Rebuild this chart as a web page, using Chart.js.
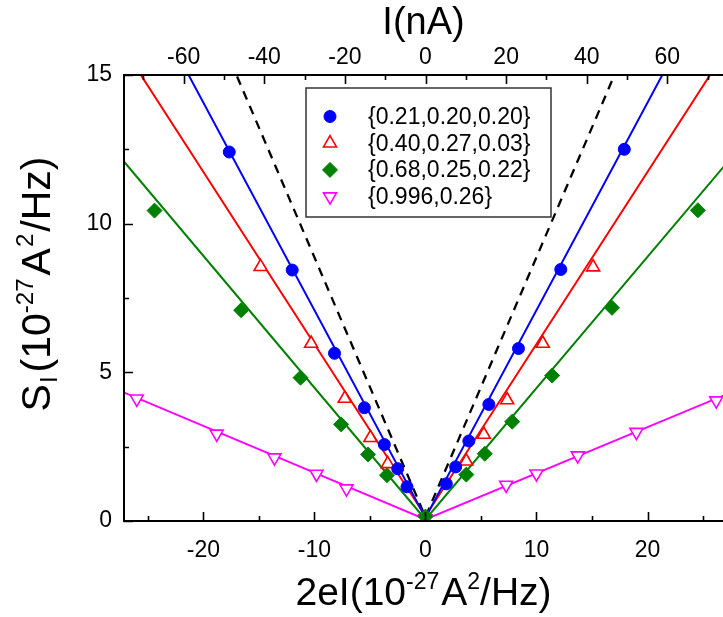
<!DOCTYPE html>
<html><head><meta charset="utf-8">
<script src="https://cdn.jsdelivr.net/npm/chart.js@4.4.0/dist/chart.umd.min.js"></script>
<style>html,body{margin:0;padding:0;background:#fff;overflow:hidden}</style>
</head><body>
<canvas id="c" width="723" height="617" style="display:block;width:723px;height:617px"></canvas>
<script>
// ---------- data ----------
const seriesLabels = ['{0.21,0.20,0.20}', '{0.40,0.27,0.03}', '{0.68,0.25,0.22}', '{0.996,0.26}'];

const blueX = [-17.67, -12.0, -8.19, -5.5, -3.7, -2.5, -1.66, 1.88, 2.72, 3.91, 5.71, 8.38, 12.19, 17.91];
const blueY = [12.41, 8.44, 5.64, 3.81, 2.57, 1.76, 1.15, 1.25, 1.82, 2.69, 3.92, 5.8, 8.46, 12.5];

const redX = [-14.85, -10.3, -7.27, -4.96, -3.4, 3.68, 5.26, 7.36, 10.57, 15.1];
const redY = [8.55, 5.97, 4.12, 2.8, 1.92, 2.01, 2.91, 4.07, 5.97, 8.54];

const greenX = [-24.4, -16.6, -11.25, -7.6, -5.17, -3.46, 0, 3.68, 5.35, 7.81, 11.41, 16.8, 24.54];
const greenY = [10.44, 7.09, 4.82, 3.25, 2.24, 1.54, 0.15, 1.56, 2.26, 3.34, 4.89, 7.17, 10.45];

const magentaX = [-26.0, -18.8, -13.6, -9.81, -7.11, 0, 7.27, 10.0, 13.72, 19.0, 26.19];
const magentaY = [4.11, 2.93, 2.13, 1.58, 1.09, 0.08, 1.21, 1.59, 2.2, 2.99, 4.05];

// fitted / reference lines (end points)
const blueFitX = [-30, 0, 30];    const blueFitY = [21.05, 0.11, 21.05];
const redFitX = [-30, 0, 30];     const redFitY = [17.53, 0.16, 17.53];
const greenFitX = [-30, 0, 30];   const greenFitY = [13.35, 0.05, 13.3];
const magentaFitX = [-30, 0, 30]; const magentaFitY = [4.77, 0.05, 4.71];
const dashX = [-30, 0, 30];       const dashY = [26.33, 0.14, 26.33];

// axes
const xMin = -27.15, xMax = 26.8;
const topMin = -74.8, topMax = 73.8;     // I(nA) axis
const yMin = 0, yMax = 15;
const xMajor = [-20, -10, 0, 10, 20];
const xMinor = [-25, -15, -5, 5, 15, 25];
const topMajor = [-60, -40, -20, 0, 20, 40, 60];
const topMinor = [-70, -50, -30, -10, 10, 30, 50, 70];
const yMajor = [0, 5, 10, 15];
const yMinor = [2.5, 7.5, 12.5];

// ---------- build ----------
const FONT = '"Liberation Sans", Arial, Helvetica, sans-serif';
const pts = (xs, ys) => xs.map((x, i) => ({x: x, y: ys[i]}));

const markerSets = [
  {label: seriesLabels[0], data: pts(blueX, blueY), pointStyle: 'circle', pointRadius: 6,
   backgroundColor: '#0000ff', borderColor: '#0000ff', pointBorderWidth: 1, rotation: 0},
  {label: seriesLabels[1], data: pts(redX, redY), pointStyle: 'triangle', pointRadius: 7.5,
   backgroundColor: '#ffffff', borderColor: '#ff0000', pointBorderWidth: 1.6, rotation: 0},
  {label: seriesLabels[2], data: pts(greenX, greenY), pointStyle: 'rectRot', pointRadius: 7.5,
   backgroundColor: '#008000', borderColor: '#008000', pointBorderWidth: 1, rotation: 0},
  {label: seriesLabels[3], data: pts(magentaX, magentaY), pointStyle: 'triangle', pointRadius: 7.5,
   backgroundColor: '#ffffff', borderColor: '#ff00ff', pointBorderWidth: 1.6, rotation: 180}
].map(d => Object.assign(d, {showLine: false, pointRotation: d.rotation, pointHoverRadius: d.pointRadius}));

const lineSets = [
  {data: pts(blueFitX, blueFitY), borderColor: '#0000ff'},
  {data: pts(redFitX, redFitY), borderColor: '#ff0000'},
  {data: pts(greenFitX, greenFitY), borderColor: '#008000'},
  {data: pts(magentaFitX, magentaFitY), borderColor: '#ff00ff'},
  {data: pts(dashX, dashY), borderColor: '#000000', borderDash: [9, 7], borderWidth: 2.3}
].map(d => Object.assign({showLine: true, pointRadius: 0, borderWidth: 2, tension: 0, fill: false, label: ''}, d));

function drawRich(ctx, parts, size) {
  const small = Math.round(size * 0.58);
  let w = 0;
  parts.forEach(p => { ctx.font = (p.s ? small : size) + 'px ' + FONT; p.w = ctx.measureText(p.t).width + (p.gap || 0); w += p.w; });
  let x = -w / 2;
  parts.forEach(p => {
    ctx.font = (p.s ? small : size) + 'px ' + FONT;
    const dy = p.s === 1 ? -size * 0.42 : (p.s === -1 ? size * 0.18 : 0);
    ctx.fillText(p.t, x, dy);
    x += p.w;
  });
}

const framePlugin = {
  id: 'frame',
  afterDatasetsDraw(chart) {
    const ctx = chart.ctx, ca = chart.chartArea;
    const sx = chart.scales.x, sx2 = chart.scales.x2, sy = chart.scales.y;
    ctx.save();
    ctx.strokeStyle = '#000'; ctx.lineWidth = 2; ctx.lineCap = 'butt';
    ctx.beginPath();
    ctx.moveTo(ca.left, ca.top - 1); ctx.lineTo(ca.left, ca.bottom + 1);
    ctx.moveTo(ca.left - 1, ca.bottom); ctx.lineTo(ca.right, ca.bottom);
    ctx.moveTo(ca.left - 1, ca.top); ctx.lineTo(ca.right, ca.top);
    ctx.stroke();
    ctx.lineWidth = 1.6;
    ctx.beginPath();
    const tickX = (vals, len) => vals.forEach(v => { const p = Math.round(sx.getPixelForValue(v)) + 0.5; ctx.moveTo(p, ca.bottom); ctx.lineTo(p, ca.bottom - len); });
    const tickT = (vals, len) => vals.forEach(v => { const p = Math.round(sx2.getPixelForValue(v)) + 0.5; ctx.moveTo(p, ca.top); ctx.lineTo(p, ca.top + len); });
    const tickY = (vals, len) => vals.forEach(v => { const p = Math.round(sy.getPixelForValue(v)) + 0.5; ctx.moveTo(ca.left, p); ctx.lineTo(ca.left + len, p); });
    tickX(xMajor, 9); tickX(xMinor, 5);
    tickT(topMajor, 9); tickT(topMinor, 5);
    tickY(yMajor, 9); tickY(yMinor, 5);
    ctx.stroke();

    // legend
    const bx = 306, by = 88, bw = 245, bh = 129;
    ctx.fillStyle = '#fff';
    ctx.fillRect(bx, by, bw, bh);
    ctx.strokeStyle = '#333'; ctx.lineWidth = 1.5;
    ctx.strokeRect(bx, by, bw, bh);
    ctx.font = '23px ' + FONT; ctx.textBaseline = 'middle'; ctx.textAlign = 'left';
    markerSets.forEach((d, i) => {
      const yy = by + 28.5 + i * 26.7;
      ctx.fillStyle = d.backgroundColor; ctx.strokeStyle = d.borderColor; ctx.lineWidth = d.pointBorderWidth;
      Chart.helpers.drawPoint(ctx, {pointStyle: d.pointStyle, radius: d.pointRadius, rotation: d.rotation, borderWidth: d.pointBorderWidth}, bx + 24, yy);
      ctx.fillStyle = '#000';
      ctx.fillText(d.label, bx + 62, yy + 1);
    });

    // axis titles
    ctx.fillStyle = '#000'; ctx.textAlign = 'left'; ctx.textBaseline = 'alphabetic';
    const cx = (ca.left + ca.right) / 2;
    ctx.save(); ctx.translate(cx, 34);
    drawRich(ctx, [{t: 'I(nA)', s: 0}], 38);
    ctx.restore();
    ctx.save(); ctx.translate(cx, 605);
    drawRich(ctx, [{t: '2eI(10', s: 0}, {t: '-27', s: 1, gap: 2}, {t: 'A', s: 0}, {t: '2', s: 1}, {t: '/Hz)', s: 0}], 39);
    ctx.restore();
    ctx.save(); ctx.translate(50, 284); ctx.rotate(-Math.PI / 2);
    drawRich(ctx, [{t: 'S', s: 0, gap: 1}, {t: 'I', s: -1, gap: 4}, {t: '(10', s: 0}, {t: '-27', s: 1, gap: 3}, {t: 'A', s: 0, gap: 1}, {t: '2', s: 1, gap: 2}, {t: '/Hz)', s: 0}], 41);
    ctx.restore();
    ctx.restore();
  }
};

const noPad = s => { s.paddingLeft = 0; s.paddingRight = 0; s.paddingTop = 0; s.paddingBottom = 0; };
const tickFont = {family: FONT, size: 23};
new Chart(document.getElementById('c'), {
  type: 'scatter',
  data: {datasets: markerSets.concat(lineSets)},
  options: {
    responsive: false, animation: false, devicePixelRatio: 1,
    layout: {padding: 0, autoPadding: false},
    plugins: {legend: {display: false}, tooltip: {enabled: false}},
    scales: {
      x: {type: 'linear', position: 'bottom', min: xMin, max: xMax,
          grid: {display: false, drawTicks: false}, border: {display: false},
          ticks: {font: tickFont, color: '#000', padding: 16, autoSkip: false, maxRotation: 0},
          afterBuildTicks: s => { s.ticks = xMajor.map(v => ({value: v})); },
          afterFit: s => { s.height = 96; noPad(s); }},
      x2: {type: 'linear', position: 'top', min: topMin, max: topMax,
          grid: {display: false, drawTicks: false}, border: {display: false},
          ticks: {font: tickFont, color: '#000', padding: 4, autoSkip: false, maxRotation: 0},
          afterBuildTicks: s => { s.ticks = topMajor.map(v => ({value: v})); },
          afterFit: s => { s.height = 75; noPad(s); }},
      y: {type: 'linear', position: 'left', min: yMin, max: yMax,
          grid: {display: false, drawTicks: false}, border: {display: false},
          ticks: {font: tickFont, color: '#000', padding: 12},
          afterBuildTicks: s => { s.ticks = yMajor.map(v => ({value: v})); },
          afterFit: s => { s.width = 124; noPad(s); }}
    }
  },
  plugins: [framePlugin]
});
</script>
</body></html>
